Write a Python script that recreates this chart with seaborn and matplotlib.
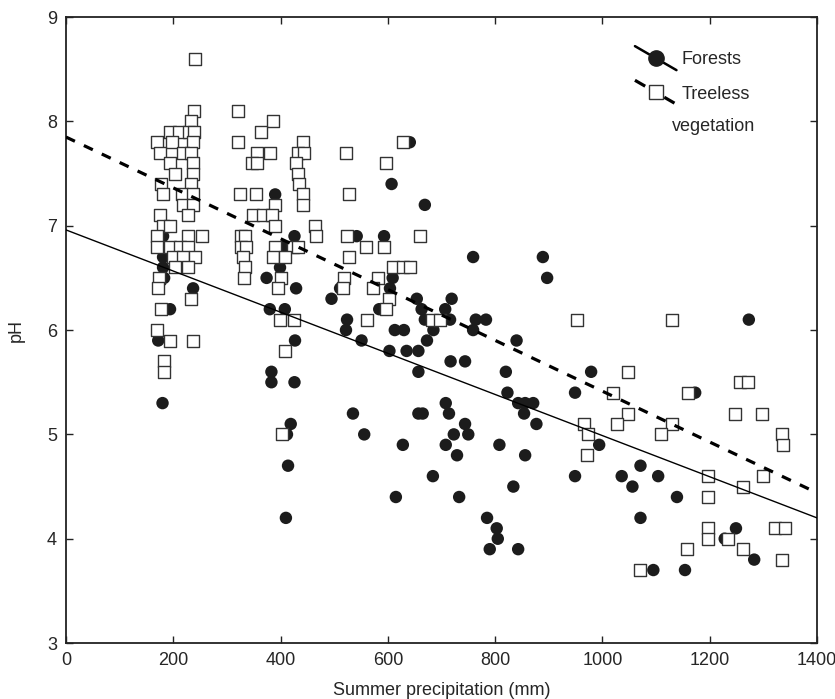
import matplotlib
matplotlib.use("Agg")
import matplotlib.pyplot as plt
from matplotlib.lines import Line2D
from matplotlib.legend_handler import HandlerBase
import seaborn as sns
import pandas as pd

# forests (filled circles)
forest_precip = [
    181, 181, 181, 183, 237, 194, 172, 180,
    390, 426, 405, 399, 374, 429, 380, 408, 427, 383, 383, 426, 419, 412, 414, 410,
    641, 607, 669, 542, 593, 759, 889, 897, 609, 511,
    604, 495, 654, 719, 584, 663, 707, 524, 669, 716,
    764, 783, 522, 613, 630, 685, 759, 551, 673, 840,
    603, 635, 657, 717, 744, 657, 820, 979, 823, 949,
    708, 843, 856, 871, 535, 657, 665, 714, 854, 744,
    877, 556, 723, 750, 628, 708, 808, 994, 729, 856,
    684, 949, 1036, 1104, 1071, 834, 1056, 615, 733, 1139,
    785, 1071, 803, 1249, 805, 790, 843, 1283, 1095, 1154,
    1173, 1273, 1228,
]
forest_ph = [
    6.9, 6.7, 6.6, 6.5, 6.4, 6.2, 5.9, 5.3,
    7.3, 6.9, 6.8, 6.6, 6.5, 6.4, 6.2, 6.2, 5.9, 5.6, 5.5, 5.5, 5.1, 5.0, 4.7, 4.2,
    7.8, 7.4, 7.2, 6.9, 6.9, 6.7, 6.7, 6.5, 6.5, 6.4,
    6.4, 6.3, 6.3, 6.3, 6.2, 6.2, 6.2, 6.1, 6.1, 6.1,
    6.1, 6.1, 6.0, 6.0, 6.0, 6.0, 6.0, 5.9, 5.9, 5.9,
    5.8, 5.8, 5.8, 5.7, 5.7, 5.6, 5.6, 5.6, 5.4, 5.4,
    5.3, 5.3, 5.3, 5.3, 5.2, 5.2, 5.2, 5.2, 5.2, 5.1,
    5.1, 5.0, 5.0, 5.0, 4.9, 4.9, 4.9, 4.9, 4.8, 4.8,
    4.6, 4.6, 4.6, 4.6, 4.7, 4.5, 4.5, 4.4, 4.4, 4.4,
    4.2, 4.2, 4.1, 4.1, 4.0, 3.9, 3.9, 3.8, 3.7, 3.7,
    5.4, 6.1, 4.0,
]

# treeless vegetation (open squares)
treeless_precip = [
    240, 239, 234, 194, 210, 230, 238, 170, 197, 237,
    175, 219, 234, 194, 236, 203, 236, 178, 234, 181,
    216, 237, 219, 237, 175, 227, 181, 194, 170, 228,
    253, 170, 194, 213, 227, 200, 219, 240, 203, 228,
    173, 171, 234, 178, 170, 194, 236, 183, 183,
    321, 386, 363, 321, 441, 357, 380, 432, 444, 346,
    357, 429, 433, 435, 324, 354, 441, 390, 441, 349,
    367, 384, 390, 464, 327, 334, 467, 327, 335, 390,
    424, 433, 330, 386, 408, 334, 332, 400, 395, 399,
    426, 408, 402,
    522, 597, 628, 528, 524, 660, 559, 593, 528, 610,
    629, 641, 519, 582, 517, 573, 603, 596, 561, 682,
    697,
    952, 1129, 1048, 1020, 1160, 1257, 1272, 1048, 1247, 1298,
    965, 1027, 1129, 974, 1110, 1334, 1337, 972, 1196, 1300,
    1262, 1196, 1196, 1322, 1340, 1196, 1235, 1157, 1262, 1334,
    1070,
]
treeless_ph = [
    8.6, 8.1, 8.0, 7.9, 7.9, 7.9, 7.9, 7.8, 7.8, 7.8,
    7.7, 7.7, 7.7, 7.6, 7.6, 7.5, 7.5, 7.4, 7.4, 7.3,
    7.3, 7.3, 7.2, 7.2, 7.1, 7.1, 7.0, 7.0, 6.9, 6.9,
    6.9, 6.8, 6.8, 6.8, 6.8, 6.7, 6.7, 6.7, 6.6, 6.6,
    6.5, 6.4, 6.3, 6.2, 6.0, 5.9, 5.9, 5.7, 5.6,
    8.1, 8.0, 7.9, 7.8, 7.8, 7.7, 7.7, 7.7, 7.7, 7.6,
    7.6, 7.6, 7.5, 7.4, 7.3, 7.3, 7.3, 7.2, 7.2, 7.1,
    7.1, 7.1, 7.0, 7.0, 6.9, 6.9, 6.9, 6.8, 6.8, 6.8,
    6.8, 6.8, 6.7, 6.7, 6.7, 6.6, 6.5, 6.5, 6.4, 6.1,
    6.1, 5.8, 5.0,
    7.7, 7.6, 7.8, 7.3, 6.9, 6.9, 6.8, 6.8, 6.7, 6.6,
    6.6, 6.6, 6.5, 6.5, 6.4, 6.4, 6.3, 6.2, 6.1, 6.1,
    6.1,
    6.1, 6.1, 5.6, 5.4, 5.4, 5.5, 5.5, 5.2, 5.2, 5.2,
    5.1, 5.1, 5.1, 5.0, 5.0, 5.0, 4.9, 4.8, 4.6, 4.6,
    4.5, 4.4, 4.1, 4.1, 4.1, 4.0, 4.0, 3.9, 3.9, 3.8,
    3.7,
]

# fitted regression lines (end points)
fit_precip = [0, 1400]
forest_fit = [6.96, 4.20]
treeless_fit = [7.85, 4.44]

x_ticks = [0, 200, 400, 600, 800, 1000, 1200, 1400]
y_ticks = [3, 4, 5, 6, 7, 8, 9]

forests = pd.DataFrame({"precip": forest_precip, "ph": forest_ph})
treeless = pd.DataFrame({"precip": treeless_precip, "ph": treeless_ph})
fits = pd.DataFrame({"precip": fit_precip, "forest": forest_fit, "treeless": treeless_fit})

sns.set_style("ticks", {"xtick.direction": "in", "ytick.direction": "in"})
plt.rcParams["font.family"] = ["Liberation Sans", "DejaVu Sans"]

fig = plt.figure(figsize=(8.35, 6.99), dpi=100)
ax = fig.add_axes([0.079, 0.080, 0.8994, 0.8956])

sns.scatterplot(data=forests, x="precip", y="ph", ax=ax, marker="o", s=80,
                color="#1c1c1c", edgecolor="none", zorder=2)
sns.scatterplot(data=treeless, x="precip", y="ph", ax=ax, marker="s", s=70,
                facecolor="white", edgecolor="#333333", linewidth=1.0, zorder=3)
sns.lineplot(data=fits, x="precip", y="forest", ax=ax, color="black", lw=1.0, zorder=4)
sns.lineplot(data=fits, x="precip", y="treeless", ax=ax, color="black", lw=2.3,
             linestyle=(0, (3.1, 3.1)), zorder=4)

ax.set_xlim(0, 1400)
ax.set_ylim(3, 9)
ax.set_xticks(x_ticks)
ax.set_yticks(y_ticks)
ax.tick_params(axis="both", which="both", direction="in", length=5, width=1,
               top=True, right=True, labelsize=13, pad=6.5, color="#222222")
for sp in ax.spines.values():
    sp.set_linewidth(1.3)
    sp.set_color("#222222")
ax.set_xlabel("Summer precipitation (mm)", fontsize=13, labelpad=9)
ax.set_ylabel("pH", fontsize=13, labelpad=16)


class SlantHandler(HandlerBase):
    def create_artists(self, legend, orig, xd, yd, w, h, fs, trans):
        ln = Line2D([-xd, w - xd], [h * 1.45 - yd, -h * 0.45 - yd],
                    color="black", lw=orig.get_linewidth(),
                    linestyle=orig.get_linestyle(), transform=trans)
        mk = Line2D([(w - 2 * xd) / 2], [(h - 2 * yd) / 2],
                    marker=orig.get_marker(), markersize=orig.get_markersize(),
                    markerfacecolor=orig.get_markerfacecolor(),
                    markeredgecolor=orig.get_markeredgecolor(),
                    markeredgewidth=orig.get_markeredgewidth(),
                    linestyle="none", transform=trans)
        return [ln, mk]


h_forest = Line2D([], [], color="black", lw=1.8, marker="o", markersize=11,
                  markerfacecolor="#1c1c1c", markeredgecolor="#1c1c1c")
h_treeless = Line2D([], [], color="black", lw=2.3, linestyle=(0, (2.5, 2.5)),
                    marker="s", markersize=10, markerfacecolor="white",
                    markeredgecolor="#333333", markeredgewidth=1.0)
leg = ax.legend([h_forest, h_treeless], ["Forests", "Treeless"],
                handler_map={Line2D: SlantHandler()}, loc="upper left",
                bbox_to_anchor=(0.736, 0.971), frameon=False, fontsize=13,
                handlelength=2.3, handletextpad=0.3, labelspacing=0.95)
# second line of the treeless label sits below, slightly left of the column
ax.annotate("vegetation", xy=(0, 0), xycoords=leg.get_texts()[1],
            xytext=(-10, -32), textcoords="offset pixels",
            ha="left", va="bottom", fontsize=13, zorder=6)

fig.savefig("out.png", dpi=100)
